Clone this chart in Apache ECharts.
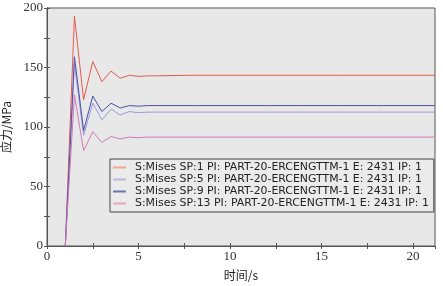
<!DOCTYPE html>
<html>
<head>
<meta charset="utf-8">
<script src="https://cdn.jsdelivr.net/npm/echarts@6/dist/echarts.min.js"></script>
<style>
  html, body { margin: 0; padding: 0; background: #fff; }
  #chart { width: 443px; height: 286px; }
</style>
</head>
<body>
<div id="chart"></div>
<script>
// time steps (s)
const times = [1, 1.5, 2, 2.5, 3, 3.5, 4, 4.5, 5, 5.5, 6, 8, 10, 12, 14, 16, 18, 20, 21.2];
// stress (MPa) per section point
const sp1  = [0, 193, 123, 155, 138, 147, 141, 143.5, 142.5, 143, 143, 143.5, 143.5, 143.5, 143.5, 143.5, 143.5, 143.5, 143.5];
const sp5  = [0, 153, 93, 120, 106, 115, 110, 113, 112, 112.5, 112.5, 112.5, 112.5, 112.5, 112.5, 112.5, 112.5, 112.5, 112.5];
const sp9  = [0, 159, 97, 126, 113, 120, 116, 118, 117.5, 118, 118, 118, 118, 118, 118, 118, 118, 118, 118];
const sp13 = [0, 127, 80, 96, 87, 92, 90, 91.5, 91, 91.5, 91.5, 91.5, 91.5, 91.5, 91.5, 91.5, 91.5, 91.5, 91.5];
const names = [
  'S:Mises SP:1 PI: PART-20-ERCENGTTM-1 E: 2431 IP: 1',
  'S:Mises SP:5 PI: PART-20-ERCENGTTM-1 E: 2431 IP: 1',
  'S:Mises SP:9 PI: PART-20-ERCENGTTM-1 E: 2431 IP: 1',
  'S:Mises SP:13 PI: PART-20-ERCENGTTM-1 E: 2431 IP: 1'
];
const lineColors = ['#e25a4e', '#9a9ade', '#4d4fa8', '#cc7ab8'];
const iconColors = ['#f2a88c', '#b8b8dc', '#6a74b4', '#e6a8b8'];

const pairs = (ys) => times.map((t, i) => [t, ys[i]]);

const chart = echarts.init(document.getElementById('chart'));
const serif = 'Liberation Serif';
const axisCol = '#555';

const option = {
  animation: false,
  grid: {
    left: 47, right: 8, top: 8, bottom: 40,
    outerBoundsMode: 'none',
    show: true, backgroundColor: '#e8e8e8', borderColor: axisCol, borderWidth: 1
  },
  legend: {
    orient: 'vertical',
    left: 110, top: 159,
    padding: [3, 5, 3, 3],
    itemGap: 1,
    itemWidth: 13, itemHeight: 2,
    borderColor: '#444', borderWidth: 1,
    backgroundColor: '#ebebeb',
    textStyle: { fontFamily: 'DejaVu Sans', fontSize: 10.9, color: '#222', padding: [0, 0, 0, 4] },
    data: names.map((n, i) => ({ name: n, icon: 'rect', itemStyle: { color: iconColors[i] } }))
  },
  xAxis: [{
    type: 'value', min: 0, max: 21.2, interval: 2.5,
    name: '时间/s', nameLocation: 'middle', nameGap: 23,
    nameTextStyle: { fontFamily: 'Noto Sans CJK SC', fontSize: 12, color: '#222' },
    axisLine: { lineStyle: { color: axisCol } },
    axisTick: { inside: true, length: 3, lineStyle: { color: axisCol } },
    axisLabel: {
      fontFamily: serif, fontSize: 13, color: '#333', margin: 4, showMaxLabel: false,
      formatter: v => (v % 5 === 0 ? String(v) : '')
    },
    splitLine: { show: false }
  }, {
    type: 'value', min: 0, max: 21.2, interval: 2.5, position: 'top',
    axisLine: { lineStyle: { color: axisCol } },
    axisTick: { inside: true, length: 3, lineStyle: { color: axisCol } },
    axisLabel: { show: false }, splitLine: { show: false }
  }],
  yAxis: [{
    type: 'value', min: 0, max: 200, interval: 25,
    name: '应力/MPa', nameLocation: 'middle', nameGap: 31, nameRotate: 90,
    nameTextStyle: { fontFamily: 'Noto Sans CJK SC', fontSize: 12, color: '#222' },
    axisLine: { show: true, lineStyle: { color: axisCol } },
    axisTick: { show: true, inside: true, length: 3, lineStyle: { color: axisCol } },
    axisLabel: {
      fontFamily: serif, fontSize: 13, color: '#333', margin: 4,
      formatter: v => (v % 50 === 0 ? String(v) : '')
    },
    splitLine: { show: false }
  }, {
    type: 'value', min: 0, max: 200, interval: 25, position: 'right',
    axisLine: { show: true, lineStyle: { color: axisCol } },
    axisTick: { show: true, inside: true, length: 3, lineStyle: { color: axisCol } },
    axisLabel: { show: false }, splitLine: { show: false }
  }],
  series: [sp1, sp5, sp9, sp13].map((ys, i) => ({
    name: names[i],
    type: 'line',
    data: pairs(ys),
    showSymbol: false,
    symbol: 'none',
    color: lineColors[i],
    lineStyle: { width: 1, color: lineColors[i] }
  }))
};
chart.setOption(option);
</script>
</body>
</html>
